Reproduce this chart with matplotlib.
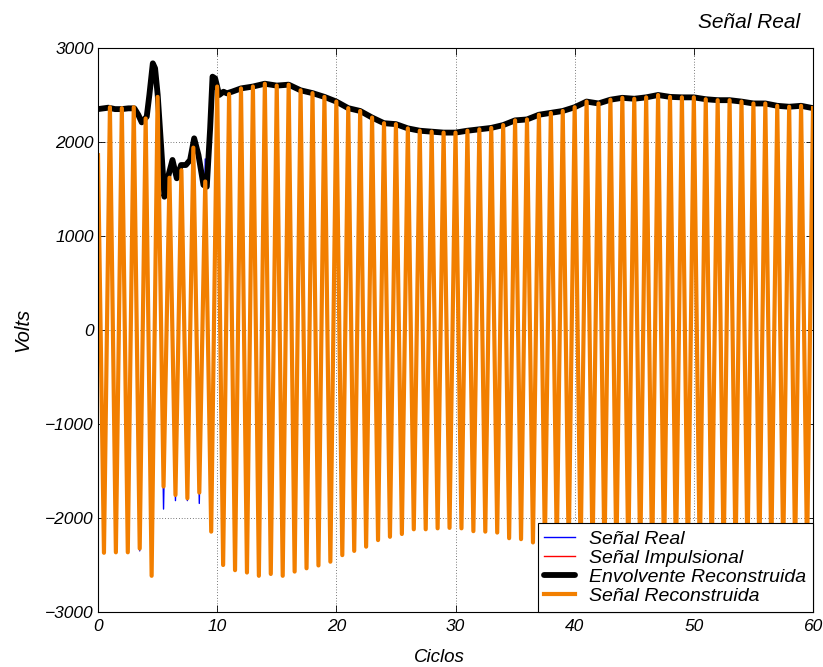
import matplotlib.pyplot as plt
import numpy as np

plt.rcParams['font.family'] = ['Liberation Sans', 'DejaVu Sans']
plt.rcParams['font.style'] = 'italic'
plt.rcParams['xtick.direction'] = 'in'
plt.rcParams['ytick.direction'] = 'in'

# peak of each cycle (at integer cycles 0..60), reconstructed signal
peaks_rec = [1860, 2370, 2360, 2370, 2250, 2480, 1620, 1700, 1940, 1580,
             2590, 2510, 2570, 2590, 2620, 2600, 2610, 2550, 2520, 2480,
             2430, 2360, 2330, 2260, 2200, 2190, 2145, 2120, 2110, 2100,
             2100, 2120, 2135, 2150, 2180, 2230, 2240, 2290, 2310, 2330,
             2370, 2430, 2410, 2450, 2470, 2460, 2475, 2500, 2480, 2475,
             2475, 2455, 2445, 2445, 2430, 2410, 2410, 2385, 2375, 2385, 2360]
# trough of each cycle (at cycles 0.5..59.5)
troughs_rec = [-2370, -2365, -2365, -2325, -2615, -1665, -1755, -1790, -1730, -2145,
               -2500, -2555, -2580, -2615, -2595, -2615, -2570, -2535, -2505, -2465,
               -2395, -2350, -2305, -2235, -2200, -2170, -2120, -2120, -2110, -2105,
               -2110, -2140, -2145, -2155, -2215, -2225, -2260, -2290, -2320, -2350,
               -2400, -2420, -2440, -2460, -2465, -2470, -2490, -2490, -2480, -2475,
               -2465, -2450, -2445, -2435, -2420, -2410, -2395, -2380, -2380, -2370]

# real signal differs only in the transient
peaks_real = list(peaks_rec)
peaks_real[4] = 2335
peaks_real[9] = 1820
troughs_real = list(troughs_rec)
troughs_real[3] = -2350
troughs_real[5] = -1905
troughs_real[6] = -1815
troughs_real[7] = -1815
troughs_real[8] = -1845
troughs_real[14] = -2605

# envelope in the transient region
env_x = [0.0, 0.87, 1.43, 2.0, 2.55, 3.05, 3.39, 3.67, 4.09, 4.31, 4.6, 4.79, 5.01,
         5.29, 5.57, 5.85, 6.25, 6.61, 6.97, 7.37, 7.73, 8.07, 8.43, 8.85, 9.13,
         9.41, 9.61, 9.83, 10.17, 10.53, 10.81, 11.24]
env_y = [2350, 2365, 2350, 2350, 2358, 2358, 2287, 2209, 2270, 2500, 2837, 2784, 2500,
         1968, 1418, 1614, 1809, 1614, 1755, 1755, 1809, 2039, 1862, 1543, 1525,
         2145, 2695, 2677, 2500, 2535, 2518, 2535]


def zigzag(peaks, troughs):
    t = np.arange(len(peaks) + len(troughs)) * 0.5
    v = np.empty(len(t))
    v[0::2] = peaks
    v[1::2] = troughs
    return t, v


t_rec, v_rec = zigzag(peaks_rec, troughs_rec)
t_real, v_real = zigzag(peaks_real, troughs_real)
env_t = np.concatenate([env_x, np.arange(12, 61)])
env_v = np.concatenate([env_y, peaks_rec[12:]])

fig = plt.figure(figsize=(8.23, 6.67), dpi=100)
ax = fig.add_axes([98 / 823, 55 / 667, 715 / 823, 564 / 667])

ax.plot(t_real, v_real, color='#0000ff', linewidth=1.0, label='Señal Real')
ax.plot(t_rec, v_rec, color='#ff0000', linewidth=1.0, label='Señal Impulsional')
ax.plot(env_t, env_v, color='k', linewidth=4.2, solid_capstyle='round',
        solid_joinstyle='round', label='Envolvente Reconstruida')
ax.plot(t_rec, v_rec, color='#f27f00', linewidth=3.0, solid_joinstyle='round',
        label='Señal Reconstruida')

ax.set_xlim(0, 60)
ax.set_ylim(-3000, 3000)
ax.set_xticks(range(0, 61, 10))
ax.set_yticks(range(-3000, 3001, 1000))
ax.tick_params(top=True, right=True, length=5, width=0.6, labelsize=12.5)
ax.tick_params(axis='x', pad=5)
ax.tick_params(axis='y', pad=3)
ax.grid(True, color='k', linestyle=(0, (1, 3)), linewidth=0.5)
for s in ax.spines.values():
    s.set_linewidth(0.8)

ax.set_xlabel('Ciclos', fontsize=13.5)
ax.xaxis.set_label_coords(0.477, -0.065)
ax.set_ylabel('Volts', fontsize=14.5, labelpad=9)
fig.text(800 / 823, 1 - 22 / 667, 'Señal Real', ha='right', va='center', fontsize=15)

leg = ax.legend(loc='lower right', borderaxespad=0, fontsize=14, fancybox=False,
                edgecolor='k', framealpha=1, handlelength=1.6, handletextpad=0.7,
                labelspacing=0.08, borderpad=0.35)
leg.get_frame().set_linewidth(0.8)

fig.savefig('out.png', dpi=100)
